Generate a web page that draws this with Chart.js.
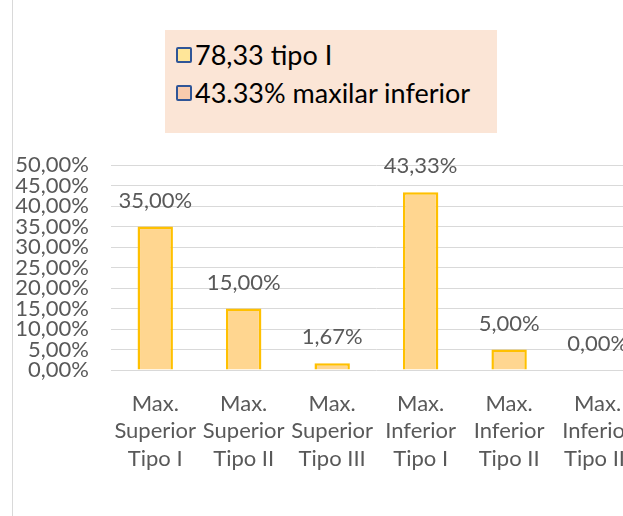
<!DOCTYPE html>
<html>
<head>
<meta charset="utf-8">
<script src="https://cdn.jsdelivr.net/npm/chart.js@4"></script>
<style>
  html, body { margin: 0; padding: 0; background: #fff; overflow: hidden; }
  #wrap { position: relative; width: 623px; height: 516px; overflow: hidden; }
  #frame { position: absolute; left: 12px; top: 0; width: 1px; height: 516px; background: #D9D9D9; }
  #chartBox { position: absolute; left: 0; top: 0; width: 645px; height: 516px; }
  #legend { position: absolute; left: 165px; top: 30px; width: 332px; height: 103px; background: #FBE5D6;
            font-family: Lato, "Open Sans", sans-serif; font-size: 27px; color: #000; }
  .item { position: absolute; left: 11px; display: flex; align-items: center; line-height: 32px; }
  .mark { width: 12px; height: 12px; border: 2px solid #2F5597; border-radius: 2px; margin-right: 3px; }
</style>
</head>
<body>
<div id="wrap">
  <div id="chartBox"><canvas id="chart"></canvas></div>
  <div id="frame"></div>
  <div id="legend"></div>
</div>
<script>
const categories = [
  ['Max.', 'Superior', 'Tipo I'],
  ['Max.', 'Superior', 'Tipo II'],
  ['Max.', 'Superior', 'Tipo III'],
  ['Max.', 'Inferior', 'Tipo I'],
  ['Max.', 'Inferior', 'Tipo II'],
  ['Max.', 'Inferior', 'Tipo III']
];
const values = [35.00, 15.00, 1.67, 43.33, 5.00, 0.00];  // percent
const legendTexts = ['78,33 tipo I', '43.33% maxilar inferior'];
const legendColors = ['#FFE699', '#F8CBAD'];

// legend box (HTML text)
const legend = document.getElementById('legend');
legendTexts.forEach(function (t, i) {
  const el = document.createElement('div');
  el.className = 'item';
  el.style.top = (9 + i * 38) + 'px';
  el.innerHTML = '<span class="mark" style="background:' + legendColors[i] + '"></span><span>' + t + '</span>';
  legend.appendChild(el);
});

function fmt(v) {
  return v.toFixed(2).replace('.', ',') + '%';
}

const valueLabels = {
  id: 'valueLabels',
  afterDatasetsDraw(chart) {
    const ctx = chart.ctx;
    const meta = chart.getDatasetMeta(0);
    ctx.save();
    ctx.fillStyle = '#595959';
    ctx.font = '22px Lato, "Open Sans", sans-serif';
    ctx.textAlign = 'center';
    ctx.textBaseline = 'middle';
    meta.data.forEach(function (bar, i) {
      ctx.fillText(fmt(values[i]), bar.x, bar.y - 26);
    });
    ctx.restore();
  }
};

document.addEventListener('DOMContentLoaded', function () {
  const ctx = document.getElementById('chart').getContext('2d');
  new Chart(ctx, {
    type: 'bar',
    data: {
      labels: categories,
      datasets: [{
        data: values,
        backgroundColor: '#FFD690',
        borderColor: '#FFC000',
        borderWidth: 2.5,
        categoryPercentage: 1,
        barPercentage: 0.4
      }]
    },
    options: {
      responsive: true,
      maintainAspectRatio: false,
      animation: false,
      layout: { padding: { top: 165, left: 12, right: 0, bottom: 0 } },
      plugins: { legend: { display: false }, tooltip: { enabled: false } },
      scales: {
        x: {
          grid: { display: false },
          border: { display: false },
          ticks: {
            color: '#595959',
            padding: 12,
            maxRotation: 0,
            autoSkip: false,
            font: { family: 'Lato, "Open Sans", sans-serif', size: 22, lineHeight: 1.25 }
          },
          afterFit(scale) { scale.height = 146; }
        },
        y: {
          min: 0,
          max: 50,
          grid: { color: '#D9D9D9', drawTicks: false },
          border: { display: false },
          ticks: {
            stepSize: 5,
            autoSkip: false,
            color: '#595959',
            padding: 22,
            font: { family: 'Lato, "Open Sans", sans-serif', size: 22, lineHeight: 0.9 },
            callback: function (v) { return fmt(v); }
          },
          afterFit(scale) { scale.width = 99; }
        }
      }
    },
    plugins: [valueLabels]
  });
});
</script>
</body>
</html>
